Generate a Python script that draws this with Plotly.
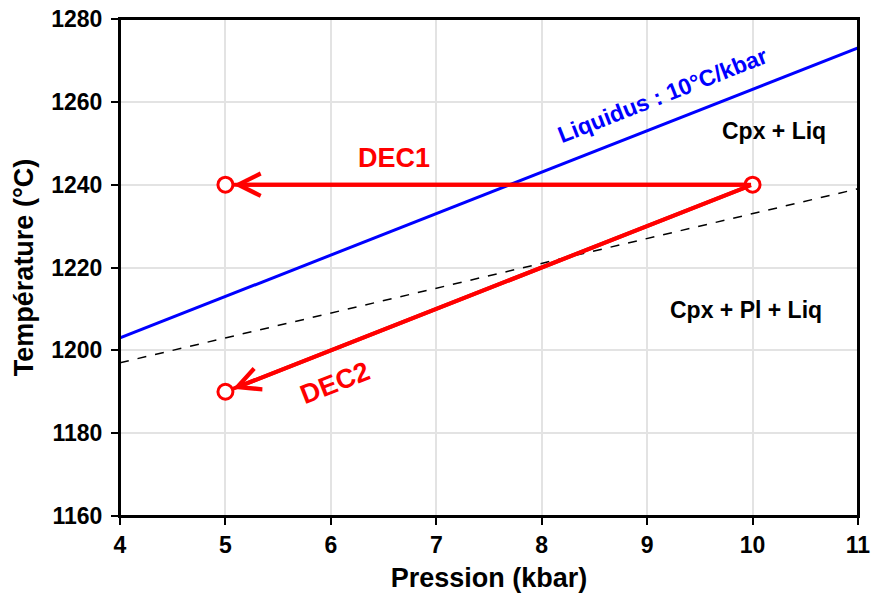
import plotly.graph_objects as go

# Data
liquidus_p = [4, 11]
liquidus_t = [1203, 1273]
plag_p = [4, 11]
plag_t = [1197, 1239]
dec1_p = [10, 5]
dec1_t = [1240, 1240]
dec2_p = [10, 5]
dec2_t = [1240, 1190]
x_ticks = list(range(4, 12))
y_ticks = list(range(1160, 1281, 20))

FONT = "Liberation Sans, Arial, sans-serif"
RED = "#ff0000"
BLUE = "#0000ff"

fig = go.Figure()
fig.add_trace(go.Scatter(x=liquidus_p, y=liquidus_t, mode="lines",
                         line=dict(color=BLUE, width=3), showlegend=False))
fig.add_trace(go.Scatter(x=plag_p, y=plag_t, mode="lines",
                         line=dict(color="black", width=1.5, dash="dash"), showlegend=False))
for px, ty in [(dec1_p, dec1_t), (dec2_p, dec2_t)]:
    fig.add_trace(go.Scatter(x=px, y=ty, mode="lines",
                             line=dict(color=RED, width=4), showlegend=False))
    fig.add_annotation(x=px[1], y=ty[1], ax=px[0], ay=ty[0], xref="x", yref="y",
                       axref="x", ayref="y", showarrow=True, arrowhead=5,
                       arrowsize=1.1, arrowwidth=4, arrowcolor=RED, standoff=8, text="")
fig.add_trace(go.Scatter(x=[dec1_p[0], dec1_p[1], dec2_p[1]], y=[dec1_t[0], dec1_t[1], dec2_t[1]],
                         mode="markers",
                         marker=dict(symbol="circle", size=15, color="white",
                                     line=dict(color=RED, width=3)), showlegend=False))

fig.add_annotation(x=9.15, y=1261.7, text="<b>Liquidus : 10°C/kbar</b>", showarrow=False,
                   textangle=-21.4, font=dict(family=FONT, size=23, color=BLUE))
fig.add_annotation(x=10.2, y=1253, text="<b>Cpx + Liq</b>", showarrow=False,
                   font=dict(family=FONT, size=23, color="black"))
fig.add_annotation(x=9.94, y=1209.7, text="<b>Cpx + Pl + Liq</b>", showarrow=False,
                   font=dict(family=FONT, size=23, color="black"))
fig.add_annotation(x=6.6, y=1246.4, text="<b>DEC1</b>", showarrow=False,
                   font=dict(family=FONT, size=27, color=RED))
fig.add_annotation(x=6.04, y=1192.1, text="<b>DEC2</b>", showarrow=False, textangle=-21.4,
                   font=dict(family=FONT, size=27, color=RED))

# plot frame
fig.add_shape(type="rect", xref="paper", yref="paper", x0=0, x1=1, y0=0, y1=1,
              line=dict(color="black", width=2), fillcolor="rgba(0,0,0,0)", layer="above")

axis_common = dict(showline=True, linecolor="black", linewidth=2, mirror=True,
                   ticks="outside", ticklen=7, tickwidth=2, tickcolor="black",
                   showgrid=True, gridcolor="#e3e3e3", gridwidth=1.5, zeroline=False,
                   automargin=False, ticklabeloverflow="allow",
                   tickfont=dict(family=FONT, size=23, color="black"))
fig.update_xaxes(range=[4, 11], tickvals=x_ticks,
                 ticktext=[f"<b>{v}</b>" for v in x_ticks],
                 title=dict(text="<b>Pression (kbar)</b>", font=dict(family=FONT, size=27, color="black"), standoff=12),
                 **axis_common)
fig.update_yaxes(range=[1160, 1280], tickvals=y_ticks, ticktext=[f"<b>{v}</b>" for v in y_ticks],
                 ticklabelstandoff=4,
                 title=dict(text="<b>Température (°C)</b>", font=dict(family=FONT, size=27, color="black"), standoff=10),
                 **axis_common)
fig.update_layout(width=872, height=599, margin=dict(l=120, r=14, t=19, b=83),
                  plot_bgcolor="white", paper_bgcolor="white", showlegend=False)
fig.write_html("out.html", config={"displayModeBar": False},
               post_script="document.body.style.margin='0';")
